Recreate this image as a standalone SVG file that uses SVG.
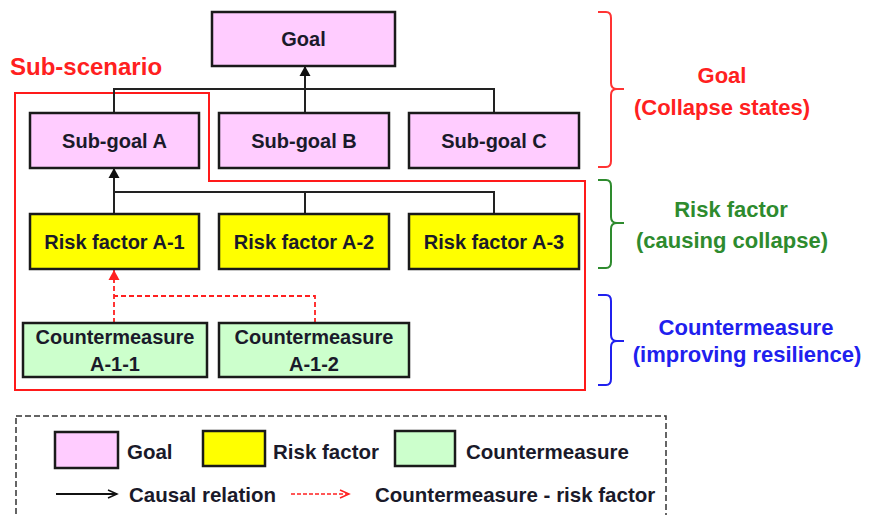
<svg xmlns="http://www.w3.org/2000/svg" width="870" height="515" viewBox="0 0 870 515">
<defs>
<style>
.box{stroke:#1a1a1a;stroke-width:2.5}
.goal{fill:#FFCCFF}
.risk{fill:#FFFF00}
.cm{fill:#CCFFCC}
.lbl{font-family:"Liberation Sans",Arial,sans-serif;font-weight:bold;font-size:20px;fill:#1a1a2a;text-anchor:middle}
.side{font-family:"Liberation Sans",Arial,sans-serif;font-weight:bold;font-size:22px;text-anchor:middle}
.leg{font-family:"Liberation Sans",Arial,sans-serif;font-weight:bold;font-size:20.5px;fill:#1a1a2a}
.con{fill:none;stroke:#222;stroke-width:2}
.dash{fill:none;stroke:#FF2020;stroke-width:1.8;stroke-dasharray:5,3}
.brace{fill:none;stroke-width:2}
</style>
<marker id="ah" viewBox="0 0 10 11" refX="10" refY="5.5" markerWidth="10" markerHeight="11" markerUnits="userSpaceOnUse" orient="auto" overflow="visible">
<path d="M0,0 L10,5.5 L0,11 Z" fill="#111"/>
</marker>
<marker id="ahr" viewBox="0 0 10 11" refX="10" refY="5.5" markerWidth="10" markerHeight="11" markerUnits="userSpaceOnUse" orient="auto" overflow="visible">
<path d="M0,0 L10,5.5 L0,11 Z" fill="#FF2020"/>
</marker>
<marker id="open" viewBox="0 0 10 10" refX="10" refY="5" markerWidth="10" markerHeight="10" markerUnits="userSpaceOnUse" orient="auto" overflow="visible">
<path d="M1,1 L10,5 L1,9" fill="none" stroke="#111" stroke-width="1.5"/>
</marker>
<marker id="openr" viewBox="0 0 10 10" refX="10" refY="5" markerWidth="10" markerHeight="10" markerUnits="userSpaceOnUse" orient="auto" overflow="visible">
<path d="M1,1 L10,5 L1,9" fill="none" stroke="#FF2020" stroke-width="1.5"/>
</marker>
</defs>
<rect width="870" height="515" fill="#fff"/>

<g id="sub-scenario">
<path d="M15,93 H209 V181 H585 V390 H15 Z" fill="none" stroke="#FF1a1a" stroke-width="2"/>
<text x="10" y="75" font-family="'Liberation Sans',Arial,sans-serif" font-weight="bold" font-size="24" fill="#FF2020">Sub-scenario</text>
</g>

<g id="connectors">
<path class="con" d="M114,113 V89 H494 V113"/>
<line class="con" x1="305" y1="113" x2="305" y2="66" marker-end="url(#ah)"/>
<path class="con" d="M305,214 V192 H494 V214 M114,192 H305"/>
<line class="con" x1="114" y1="214" x2="114" y2="168" marker-end="url(#ah)"/>
<path class="dash" d="M315,323 V296 H114"/>
<line class="dash" x1="114" y1="323" x2="114" y2="270" marker-end="url(#ahr)"/>
</g>

<g id="goal"><rect class="box goal" x="212" y="12" width="183" height="54"/><text class="lbl" x="303.5" y="46">Goal</text></g>
<g id="subgoal-a"><rect class="box goal" x="30" y="113" width="169" height="55"/><text class="lbl" x="114.5" y="148">Sub-goal A</text></g>
<g id="subgoal-b"><rect class="box goal" x="219" y="113" width="170" height="55"/><text class="lbl" x="304" y="148">Sub-goal B</text></g>
<g id="subgoal-c"><rect class="box goal" x="409" y="113" width="170" height="55"/><text class="lbl" x="494" y="148">Sub-goal C</text></g>

<g id="risk-a1"><rect class="box risk" x="30" y="214" width="169" height="55"/><text class="lbl" x="114.5" y="249">Risk factor A-1</text></g>
<g id="risk-a2"><rect class="box risk" x="219" y="214" width="170" height="55"/><text class="lbl" x="304" y="249">Risk factor A-2</text></g>
<g id="risk-a3"><rect class="box risk" x="409" y="214" width="170" height="55"/><text class="lbl" x="494" y="249">Risk factor A-3</text></g>

<g id="cm-a11"><rect class="box cm" x="23" y="323" width="184" height="54"/><text class="lbl" x="115" y="344">Countermeasure</text><text class="lbl" x="115" y="371">A-1-1</text></g>
<g id="cm-a12"><rect class="box cm" x="219" y="323" width="190" height="54"/><text class="lbl" x="314" y="344">Countermeasure</text><text class="lbl" x="314" y="371">A-1-2</text></g>

<g id="side-goal">
<path class="brace" stroke="#FF3333" d="M598,12 H606 Q611,12 611,18 V83 Q611,89 617,89 H624 M617,89 Q611,89 611,95 V161 Q611,167 606,167 H598"/>
<text class="side" x="722" y="83" fill="#FF2020">Goal</text>
<text class="side" x="722" y="115" fill="#FF2020">(Collapse states)</text>
</g>
<g id="side-risk">
<path class="brace" stroke="#2E8B2E" d="M598,180 H606 Q611,180 611,186 V217 Q611,223 617,223 H624 M617,223 Q611,223 611,229 V262 Q611,268 606,268 H598"/>
<text class="side" x="731" y="217" fill="#2E8B2E">Risk factor</text>
<text class="side" x="732" y="248" fill="#2E8B2E">(causing collapse)</text>
</g>
<g id="side-cm">
<path class="brace" stroke="#2020EE" d="M598,295 H606 Q611,295 611,301 V335 Q611,341 617,341 H624 M617,341 Q611,341 611,347 V379 Q611,385 606,385 H598"/>
<text class="side" x="746" y="335" fill="#2020EE">Countermeasure</text>
<text class="side" x="747" y="362" fill="#2020EE">(improving resilience)</text>
</g>

<g id="legend">
<rect x="16" y="416" width="650" height="110" fill="none" stroke="#333" stroke-width="1.5" stroke-dasharray="6,3"/>
<rect class="box goal" x="55" y="432" width="63" height="36"/>
<text class="leg" x="127" y="459">Goal</text>
<rect class="box risk" x="203" y="431" width="62" height="35"/>
<text class="leg" x="273" y="459">Risk factor</text>
<rect class="box cm" x="395" y="431" width="60" height="35"/>
<text class="leg" x="466" y="459">Countermeasure</text>
<line x1="56" y1="494" x2="117" y2="494" stroke="#111" stroke-width="1.8" marker-end="url(#open)"/>
<text class="leg" x="129" y="502">Causal relation</text>
<line x1="291" y1="494" x2="349" y2="494" stroke="#FF2020" stroke-width="1.6" stroke-dasharray="4,2" marker-end="url(#openr)"/>
<text class="leg" x="375" y="502">Countermeasure - risk factor</text>
</g>
</svg>
